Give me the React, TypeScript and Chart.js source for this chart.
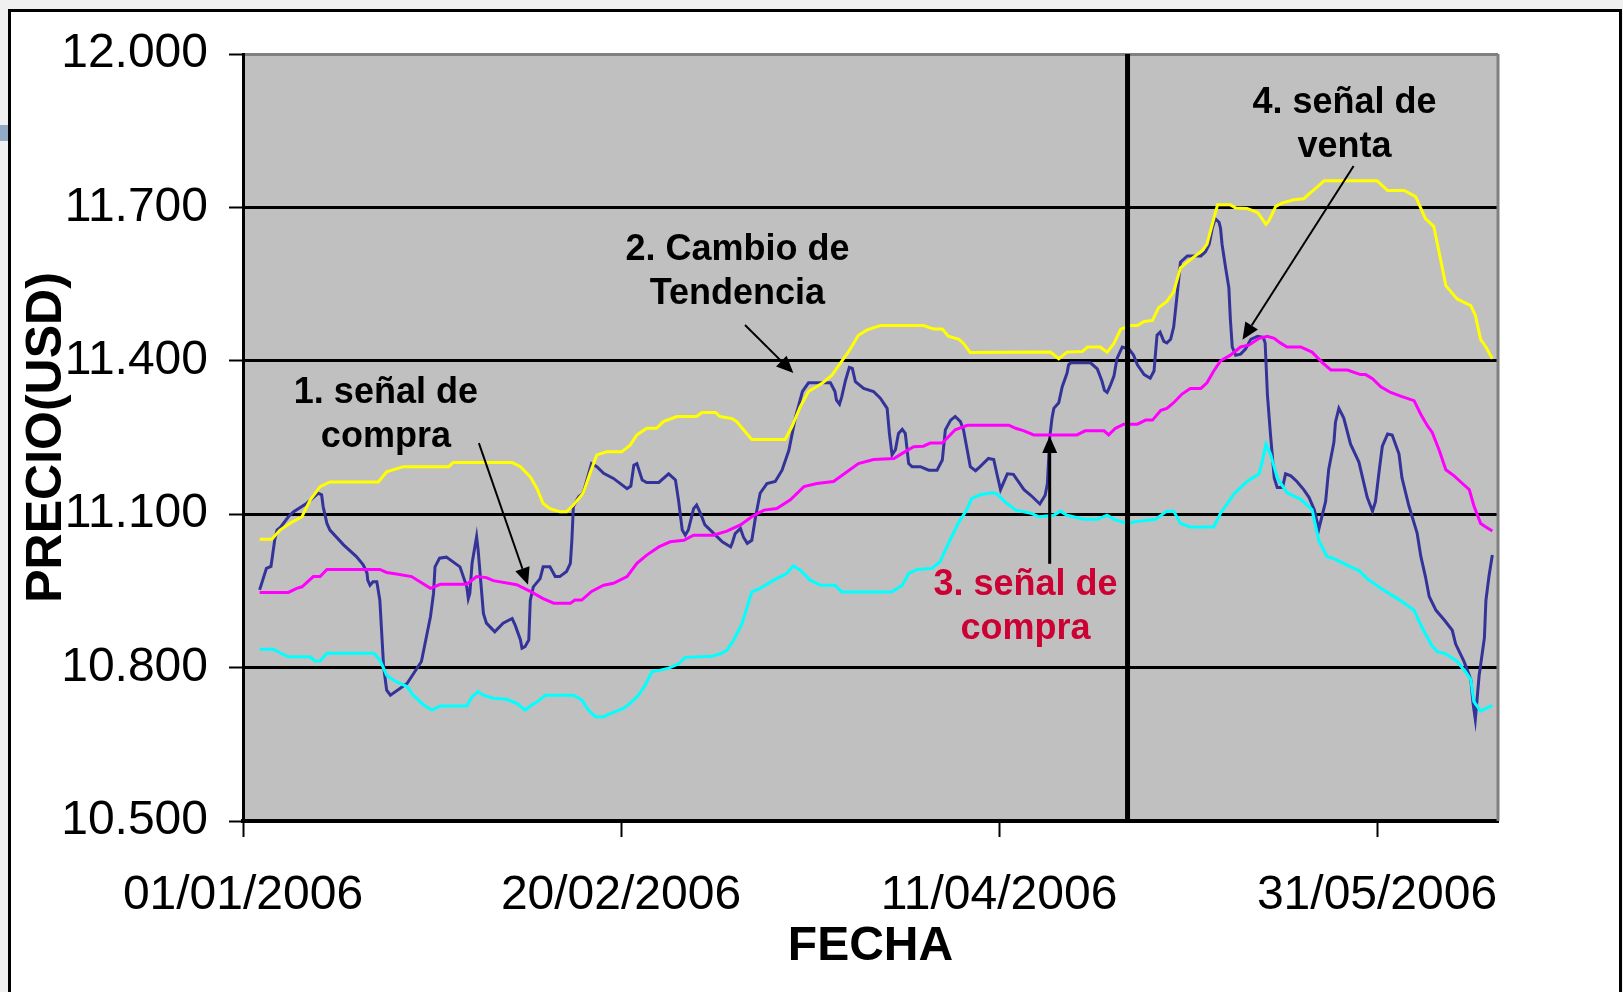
import React, { useEffect, useRef } from 'react';
import { Chart, registerables } from 'chart.js';

Chart.register(...registerables);

// Days counted from 01/01/2006
const priceDays = [2.2, 3.1, 3.7, 4.2, 4.5, 5.0, 6.0, 6.7, 8.4, 9.97, 10.4, 10.6, 11.1, 11.5, 13.3, 15.0, 15.9, 16.4, 16.5, 16.8, 17.2, 17.7, 18.1, 18.6, 19.0, 19.5, 21.7, 23.6, 24.8, 25.2, 25.4, 26.0, 26.9, 28.7, 29.6, 29.8, 30.0, 30.3, 30.9, 31.1, 31.8, 32.2, 33.3, 34.4, 35.6, 36.0, 36.7, 36.9, 37.3, 37.8, 38.0, 38.4, 39.3, 39.7, 40.6, 41.3, 41.9, 42.8, 43.3, 43.5, 43.7, 44.4, 45.0, 46.1, 46.8, 47.7, 49.0, 50.8, 51.3, 51.7, 52.1, 52.8, 53.4, 55.0, 56.3, 57.2, 57.6, 58.1, 58.5, 58.9, 59.6, 60.0, 60.5, 61.1, 62.5, 63.4, 64.5, 64.7, 65.1, 65.8, 66.2, 66.7, 67.3, 67.8, 68.4, 69.3, 70.4, 71.3, 72.2, 73.1, 74.0, 74.8, 77.7, 78.3, 78.5, 78.9, 79.2, 79.7, 80.2, 80.6, 81.0, 82.1, 83.4, 84.3, 85.2, 85.5, 85.85, 86.3, 86.7, 87.2, 87.6, 88.05, 88.5, 89.6, 90.7, 91.8, 92.5, 92.9, 93.6, 94.2, 94.9, 95.3, 95.8, 96.2, 96.9, 97.5, 98.6, 99.3, 99.7, 100.2, 101.1, 101.9, 103.3, 104.2, 105.4, 106.1, 106.4, 106.7, 107.0, 107.25, 107.9, 108.35, 109.0, 109.2, 109.5, 112.1, 113.0, 113.6, 113.95, 114.3, 114.75, 115.2, 115.6, 116.3, 117.2, 117.8, 118.3, 119.2, 120.0, 120.5, 120.9, 121.3, 121.8, 122.2, 122.7, 123.1, 123.6, 124.0, 124.9, 126.7, 127.3, 127.8, 128.2, 128.6, 129.1, 129.3, 129.5, 129.97, 130.4, 130.6, 130.85, 131.3, 131.95, 132.6, 133.3, 134.2, 134.95, 135.2, 135.5, 135.9, 136.4, 136.8, 137.5, 137.9, 138.6, 139.4, 140.3, 141.0, 141.7, 142.3, 143.2, 143.6, 144.3, 144.5, 144.95, 145.6, 146.5, 147.6, 148.7, 149.4, 149.8, 150.3, 150.7, 151.4, 152.0, 152.9, 153.3, 154.2, 155.3, 155.8, 156.4, 156.9, 157.8, 158.9, 159.95, 160.4, 161.5, 162.4, 162.7, 163.0, 163.5, 164.2, 164.4, 164.8, 165.25];
const priceValues = [10952, 10994, 10998, 11050, 11069, 11075, 11095, 11105, 11121, 11141, 11138, 11115, 11082, 11069, 11040, 11017, 11001, 10985, 10971, 10961, 10968, 10968, 10932, 10802, 10756, 10746, 10769, 10812, 10900, 10945, 10997, 11014, 11016, 10997, 10958, 10935, 10945, 11004, 11056, 11030, 10906, 10887, 10870, 10887, 10896, 10883, 10854, 10838, 10841, 10854, 10932, 10958, 10974, 10997, 10997, 10978, 10978, 10988, 11004, 11049, 11115, 11134, 11141, 11199, 11193, 11180, 11170, 11150, 11155, 11196, 11199, 11167, 11162, 11162, 11179, 11167, 11128, 11069, 11059, 11069, 11111, 11118, 11102, 11079, 11059, 11046, 11036, 11043, 11062, 11072, 11055, 11043, 11049, 11095, 11141, 11160, 11164, 11186, 11225, 11291, 11340, 11357, 11357, 11340, 11323, 11315, 11330, 11362, 11387, 11385, 11359, 11346, 11340, 11327, 11307, 11258, 11216, 11226, 11258, 11266, 11258, 11199, 11193, 11193, 11186, 11186, 11206, 11265, 11284, 11291, 11281, 11265, 11225, 11193, 11185, 11193, 11209, 11207, 11180, 11148, 11179, 11178, 11148, 11137, 11120, 11137, 11160, 11249, 11287, 11307, 11318, 11349, 11376, 11392, 11396, 11396, 11384, 11361, 11342, 11338, 11353, 11370, 11404, 11427, 11423, 11411, 11392, 11373, 11366, 11380, 11450, 11456, 11438, 11435, 11442, 11466, 11535, 11593, 11605, 11605, 11613, 11628, 11659, 11678, 11671, 11659, 11628, 11582, 11543, 11481, 11427, 11411, 11413, 11423, 11442, 11448, 11446, 11435, 11334, 11257, 11171, 11152, 11152, 11179, 11175, 11164, 11148, 11133, 11109, 11071, 11125, 11187, 11241, 11280, 11307, 11288, 11237, 11202, 11133, 11106, 11125, 11187, 11233, 11257, 11255, 11218, 11171, 11117, 11063, 11017, 10978, 10939, 10912, 10893, 10873, 10846, 10812, 10777, 10730, 10699, 10784, 10858, 10931, 10978, 11020];

const upperDays = [2.2, 3.8, 4.9, 6.2, 7.8, 8.9, 10.2, 11.5, 17.9, 19.0, 21.2, 27.2, 27.8, 35.6, 36.7, 38.0, 38.9, 39.7, 40.6, 41.9, 42.8, 43.7, 45.0, 45.9, 46.8, 48.1, 50.1, 51.2, 52.1, 53.4, 54.7, 55.6, 57.4, 60.0, 60.7, 62.5, 63.1, 64.7, 65.3, 66.2, 67.3, 71.7, 72.6, 73.7, 74.8, 76.6, 77.9, 79.0, 80.1, 81.4, 82.5, 84.3, 90.0, 91.4, 92.5, 93.3, 94.7, 95.3, 96.2, 106.8, 107.9, 109.0, 111.0, 111.7, 113.4, 114.3, 115.2, 116.1, 117.4, 118.3, 119.2, 120.3, 121.1, 122.2, 123.1, 124.0, 124.9, 126.9, 127.5, 128.9, 130.6, 131.3, 132.8, 134.2, 134.6, 135.3, 135.7, 136.6, 137.5, 139.0, 140.3, 141.2, 142.1, 143.0, 150.0, 151.4, 153.6, 155.1, 155.8, 156.4, 157.5, 158.2, 159.1, 160.6, 162.4, 163.0, 163.7, 164.4, 165.25];
const upperValues = [11051, 11051, 11069, 11082, 11095, 11128, 11154, 11163, 11163, 11183, 11193, 11193, 11201, 11201, 11193, 11173, 11150, 11121, 11111, 11105, 11105, 11118, 11141, 11180, 11216, 11222, 11222, 11235, 11255, 11268, 11268, 11281, 11291, 11291, 11299, 11299, 11291, 11287, 11281, 11265, 11246, 11246, 11271, 11310, 11340, 11356, 11372, 11395, 11418, 11450, 11460, 11469, 11469, 11462, 11462, 11448, 11442, 11434, 11416, 11417, 11404, 11417, 11418, 11427, 11427, 11417, 11434, 11462, 11469, 11469, 11477, 11479, 11504, 11516, 11535, 11582, 11593, 11616, 11628, 11705, 11705, 11699, 11698, 11690, 11682, 11667, 11674, 11702, 11709, 11715, 11717, 11729, 11740, 11752, 11752, 11733, 11733, 11721, 11698, 11678, 11663, 11613, 11547, 11521, 11508, 11489, 11442, 11427, 11404];

const averageDays = [2.2, 6.0, 7.1, 7.8, 9.3, 10.2, 11.1, 18.1, 19.0, 20.3, 22.3, 24.8, 26.1, 29.6, 30.9, 32.2, 33.1, 36.2, 38.0, 39.7, 41.1, 43.3, 43.9, 44.8, 46.1, 47.7, 49.0, 50.8, 52.1, 53.4, 55.0, 56.5, 58.3, 59.6, 62.2, 64.0, 65.8, 67.3, 68.9, 70.6, 72.4, 74.2, 75.9, 78.1, 79.9, 81.4, 83.4, 86.1, 87.2, 88.7, 90.0, 90.9, 92.5, 94.2, 95.8, 101.3, 102.2, 103.3, 104.6, 110.3, 111.4, 113.9, 114.5, 115.4, 116.5, 118.3, 119.4, 120.3, 121.4, 122.2, 123.1, 124.2, 125.3, 126.7, 127.5, 128.4, 129.3, 130.6, 131.95, 133.1, 134.4, 135.5, 136.4, 137.2, 138.1, 139.9, 141.4, 142.8, 143.9, 146.1, 147.8, 148.5, 149.4, 150.5, 151.8, 153.3, 154.9, 155.8, 156.7, 157.3, 158.2, 159.1, 160.2, 161.3, 162.2, 162.8, 163.7, 164.4, 165.25];
const averageValues = [10947, 10947, 10955, 10958, 10978, 10978, 10992, 10992, 10986, 10983, 10978, 10955, 10963, 10963, 10978, 10976, 10970, 10962, 10949, 10935, 10926, 10926, 10932, 10932, 10949, 10961, 10965, 10978, 11004, 11020, 11036, 11046, 11049, 11059, 11059, 11067, 11079, 11095, 11108, 11111, 11128, 11154, 11160, 11164, 11183, 11199, 11207, 11209, 11219, 11232, 11233, 11239, 11239, 11265, 11274, 11274, 11268, 11263, 11255, 11255, 11263, 11263, 11255, 11268, 11276, 11276, 11284, 11284, 11303, 11307, 11318, 11335, 11346, 11346, 11357, 11380, 11400, 11411, 11427, 11431, 11444, 11448, 11444, 11435, 11427, 11427, 11417, 11396, 11382, 11382, 11373, 11373, 11365, 11349, 11338, 11330, 11322, 11295, 11272, 11260, 11226, 11187, 11175, 11160, 11148, 11117, 11082, 11075, 11067];

const lowerDays = [2.2, 4.0, 4.9, 6.0, 8.9, 9.5, 10.2, 11.1, 17.3, 18.1, 19.0, 20.3, 21.7, 22.5, 23.9, 25.0, 26.1, 29.6, 30.3, 31.1, 31.8, 33.1, 34.9, 36.2, 37.3, 38.2, 38.9, 40.0, 43.7, 44.8, 45.7, 46.6, 47.7, 48.6, 50.3, 51.2, 52.3, 53.2, 54.1, 55.2, 56.3, 57.6, 58.5, 62.0, 63.3, 64.0, 64.9, 66.0, 67.3, 68.4, 70.2, 71.9, 72.8, 73.7, 75.0, 76.4, 78.3, 79.2, 85.8, 87.2, 88.05, 89.2, 91.1, 92.2, 93.3, 94.7, 95.6, 96.4, 97.5, 99.1, 99.7, 100.8, 102.2, 104.2, 105.3, 107.25, 108.1, 109.0, 111.2, 113.0, 114.3, 115.2, 117.0, 118.3, 120.7, 122.2, 123.1, 124.0, 125.3, 128.4, 129.3, 131.1, 132.8, 134.4, 134.8, 135.3, 135.9, 136.8, 138.1, 139.9, 141.4, 142.3, 143.4, 144.3, 146.5, 147.6, 148.7, 150.5, 153.1, 154.9, 156.0, 157.3, 158.0, 159.1, 160.6, 161.7, 162.4, 162.8, 163.7, 165.25];
const lowerValues = [10836, 10836, 10829, 10821, 10821, 10813, 10813, 10828, 10828, 10815, 10785, 10772, 10763, 10746, 10727, 10717, 10725, 10725, 10743, 10753, 10746, 10740, 10738, 10730, 10717, 10727, 10733, 10746, 10746, 10737, 10717, 10704, 10704, 10710, 10720, 10730, 10746, 10766, 10792, 10795, 10799, 10807, 10820, 10822, 10828, 10834, 10854, 10886, 10948, 10955, 10971, 10984, 10999, 10991, 10971, 10961, 10961, 10948, 10948, 10961, 10984, 10992, 10994, 11007, 11043, 11085, 11105, 11131, 11138, 11142, 11140, 11124, 11108, 11102, 11095, 11098, 11106, 11098, 11090, 11090, 11098, 11090, 11082, 11086, 11090, 11106, 11106, 11082, 11075, 11075, 11102, 11140, 11164, 11179, 11202, 11237, 11218, 11171, 11142, 11129, 11109, 11048, 11017, 11013, 10997, 10990, 10974, 10955, 10931, 10912, 10877, 10842, 10831, 10827, 10812, 10792, 10777, 10734, 10715, 10726];

const tickDays = [0, 50, 100, 150];
const tickLabels = ['01/01/2006', '20/02/2006', '11/04/2006', '31/05/2006'];
const yMin = 10500;
const yMax = 12000;
const yStep = 300;
const xMax = 166;
const dividerDay = 117;

const notes = [
  { lines: ['1. señal de', 'compra'], day: 18.9, value: 11317, color: '#000000' },
  { lines: ['2. Cambio de', 'Tendencia'], day: 65.4, value: 11597, color: '#000000' },
  { lines: ['3. señal de', 'compra'], day: 103.5, value: 10942, color: '#cc0033' },
  { lines: ['4. señal de', 'venta'], day: 145.7, value: 11885, color: '#000000' },
];
const arrowsFrom = [[31.2, 11239], [66.4, 11470], [106.7, 11003], [146.9, 11781]];
const arrowsTo = [[37.7, 10962], [72.8, 11376], [106.7, 11253], [132.2, 11441]];
const arrowWidths = [2, 2, 3, 2];

const FONT = "'Liberation Sans', Arial, sans-serif";

function fmtThousands(v: number) {
  const th = Math.floor(v / 1000);
  const rest = String(Math.round(v % 1000)).padStart(3, '0');
  return th + '.' + rest;
}

export default function App() {
  const ref = useRef<HTMLCanvasElement>(null);

  useEffect(() => {
    document.body.style.margin = '0';
    const canvas = ref.current!;
    const toXY = (d: number[], v: number[]) => d.map((x, i) => ({ x, y: v[i] }));

    const overlay = {
      id: 'overlay',
      beforeDraw(chart: any) {
        const { ctx, chartArea: a } = chart;
        ctx.save();
        ctx.fillStyle = '#c0c0c0';
        ctx.fillRect(a.left, a.top, a.right - a.left, a.bottom - a.top);
        ctx.restore();
      },
      beforeDatasetsDraw(chart: any) {
        const { ctx, chartArea: a } = chart;
        ctx.save();
        ctx.strokeStyle = '#808080';
        ctx.lineWidth = 3;
        ctx.beginPath();
        ctx.moveTo(a.right, a.top);
        ctx.lineTo(a.right, a.bottom);
        ctx.stroke();
        ctx.restore();
      },
      afterDatasetsDraw(chart: any) {
        const { ctx, chartArea: a } = chart;
        const xs = chart.scales.x;
        const ys = chart.scales.y;
        ctx.save();
        // divider
        const dx = xs.getPixelForValue(dividerDay);
        ctx.strokeStyle = '#000';
        ctx.lineWidth = 5;
        ctx.beginPath();
        ctx.moveTo(dx, a.top);
        ctx.lineTo(dx, a.bottom);
        ctx.stroke();
        // arrows
        arrowsFrom.forEach((f, i) => {
          const t = arrowsTo[i];
          const x1 = xs.getPixelForValue(f[0]);
          const y1 = ys.getPixelForValue(f[1]);
          const x2 = xs.getPixelForValue(t[0]);
          const y2 = ys.getPixelForValue(t[1]);
          const ang = Math.atan2(y2 - y1, x2 - x1);
          const hl = 17;
          const hw = 7.5;
          const bx = x2 - hl * Math.cos(ang);
          const by = y2 - hl * Math.sin(ang);
          ctx.strokeStyle = '#000';
          ctx.fillStyle = '#000';
          ctx.lineWidth = arrowWidths[i];
          ctx.beginPath();
          ctx.moveTo(x1, y1);
          ctx.lineTo(bx, by);
          ctx.stroke();
          ctx.beginPath();
          ctx.moveTo(x2, y2);
          ctx.lineTo(bx + hw * Math.sin(ang), by - hw * Math.cos(ang));
          ctx.lineTo(bx - hw * Math.sin(ang), by + hw * Math.cos(ang));
          ctx.closePath();
          ctx.fill();
        });
        // notes
        ctx.font = `bold 36px ${FONT}`;
        ctx.textAlign = 'center';
        ctx.textBaseline = 'alphabetic';
        notes.forEach((n) => {
          const x = xs.getPixelForValue(n.day);
          const y = ys.getPixelForValue(n.value);
          ctx.fillStyle = n.color;
          n.lines.forEach((line, k) => ctx.fillText(line, x, y + k * 44));
        });
        ctx.restore();
      },
    };

    const line = (label: string, d: number[], v: number[], color: string, order: number) => ({
      label,
      data: toXY(d, v),
      borderColor: color,
      backgroundColor: color,
      borderWidth: 3,
      pointRadius: 0,
      tension: 0,
      fill: false,
      order,
    });

    const chart = new Chart(canvas, {
      type: 'line',
      data: {
        datasets: [
          line('Precio', priceDays, priceValues, '#333399', 4),
          line('Banda superior', upperDays, upperValues, '#ffff00', 3),
          line('Media móvil', averageDays, averageValues, '#ff00ff', 2),
          line('Banda inferior', lowerDays, lowerValues, '#00ffff', 1),
        ],
      },
      options: {
        responsive: false,
        animation: false,
        devicePixelRatio: 1,
        layout: { padding: { top: 54, right: 125, left: 0, bottom: 0 } },
        plugins: { legend: { display: false }, tooltip: { enabled: false } },
        scales: {
          x: {
            type: 'linear',
            min: 0,
            max: xMax,
            afterBuildTicks: (s: any) => {
              s.ticks = tickDays.map((v) => ({ value: v }));
            },
            afterFit: (s: any) => {
              s.height = 171;
            },
            ticks: {
              autoSkip: false,
              maxRotation: 0,
              padding: 30,
              color: '#000',
              font: { family: FONT, size: 48 },
              callback: (v: any) => {
                const i = tickDays.indexOf(Number(v));
                return i >= 0 ? tickLabels[i] : '';
              },
            },
            grid: {
              drawOnChartArea: false,
              drawTicks: true,
              tickLength: 16,
              tickWidth: 2,
              tickColor: '#000',
            },
            border: { display: true, color: '#000', width: 4 },
            title: {
              display: true,
              text: 'FECHA',
              color: '#000',
              font: { family: FONT, size: 48, weight: 'bold' },
              padding: { top: 0, bottom: 16 },
            },
          },
          y: {
            min: yMin,
            max: yMax,
            afterFit: (s: any) => {
              s.width = 243;
            },
            ticks: {
              stepSize: yStep,
              padding: 21,
              color: '#000',
              font: { family: FONT, size: 48 },
              callback: (v: any) => fmtThousands(Number(v)),
            },
            grid: {
              color: (c: any) => (c.tick && c.tick.value === yMax ? '#808080' : '#000000'),
              lineWidth: 3,
              drawTicks: true,
              tickLength: 14,
              tickWidth: 2,
              tickColor: '#000',
            },
            border: { display: true, color: '#000', width: 3 },
            title: {
              display: true,
              text: 'PRECIO(USD)',
              color: '#000',
              font: { family: FONT, size: 50, weight: 'bold' },
              padding: { top: 17, bottom: 0 },
            },
          },
        },
      },
      plugins: [overlay],
    });
    return () => chart.destroy();
  }, []);

  return (
    <div style={{ position: 'fixed', left: 0, top: 0, width: 1623, height: 992, background: '#f0f0f0', overflow: 'hidden' }}>
      <div style={{ position: 'absolute', left: 0, top: 125, width: 8, height: 16, background: '#93aac6' }} />
      <div
        style={{
          position: 'absolute',
          left: 8,
          top: 9,
          width: 1614,
          height: 1000,
          boxSizing: 'border-box',
          border: '3px solid #000',
          background: '#ffffff',
        }}
      />
      <canvas ref={ref} width={1623} height={992} style={{ position: 'absolute', left: 0, top: 0, width: 1623, height: 992 }} />
    </div>
  );
}
